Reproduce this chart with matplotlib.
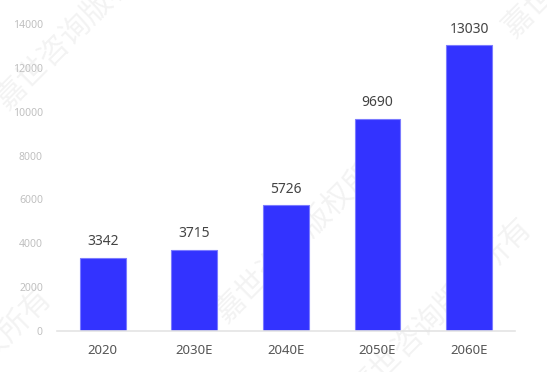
import matplotlib
matplotlib.use("Agg")
import matplotlib.pyplot as plt

categories = ["2020", "2030E", "2040E", "2050E", "2060E"]
values = [3342, 3715, 5726, 9690, 13030]
yticks = [0, 2000, 4000, 6000, 8000, 10000, 12000, 14000]
watermark = "嘉世咨询版权所有"

plt.rcParams["font.family"] = ["Noto Sans", "DejaVu Sans"]

fig = plt.figure(figsize=(5.47, 3.72), dpi=100)
ax = fig.add_axes([0.104, 0.110, 0.8375, 0.8255])
ax.patch.set_alpha(0)

bars = ax.bar(range(len(categories)), values, width=0.5,
              color="#3333ff", edgecolor="#7b7bff", linewidth=0.8, zorder=2)
for b, v in zip(bars, values):
    ax.annotate(str(v), (b.get_x() + b.get_width() / 2, v),
                xytext=(0, 6), textcoords="offset points",
                ha="center", va="bottom", fontsize=10, color="#444444")

ax.set_xlim(-0.5, len(categories) - 0.5)
ax.set_ylim(0, 14000)
ax.set_yticks(yticks)
ax.set_yticklabels([str(t) for t in yticks], fontsize=7.5, color="#c0c0c0")
ax.set_xticks(range(len(categories)))
ax.set_xticklabels(categories, fontsize=9.5, color="#555555")
ax.tick_params(axis="y", length=0, pad=10)
ax.tick_params(axis="x", length=0, pad=9)
for s in ["left", "right", "top"]:
    ax.spines[s].set_visible(False)
ax.spines["bottom"].set_color("#e4e4e4")
ax.spines["bottom"].set_linewidth(1.2)

# diagonal watermark tiles, kept behind the bars
for cx, cy in [(87, 18), (306, 231), (441, 309), (594, -54), (-39, 379)]:
    fig.text(cx / 547, 1 - cy / 372, watermark, rotation=45,
             ha="center", va="center", fontsize=22,
             family=["Noto Sans CJK SC"], color="#000000", alpha=0.05,
             zorder=-1)

fig.savefig("out.png", dpi=100)
